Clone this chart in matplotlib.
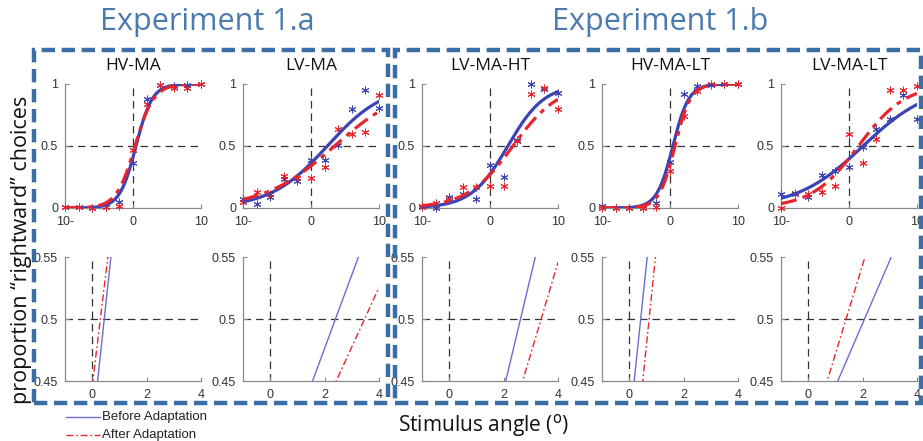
import numpy as np
import matplotlib.pyplot as plt
from matplotlib.patches import Rectangle
from matplotlib.lines import Line2D

# stimulus angles and panel names
angles = [-10, -8, -6, -4, -2, 0, 2, 4, 6, 8, 10]
panels = ["HV-MA", "LV-MA", "LV-MA-HT", "HV-MA-LT", "LV-MA-LT"]

# proportion "rightward" choices
before_pts = [
    [0.01, 0.01, 0.00, 0.01, 0.05, 0.36, 0.88, 0.99, 0.98, 0.99, 1.00],
    [0.07, 0.035, 0.09, 0.23, 0.22, 0.39, 0.39, 0.51, 0.80, 0.95, 0.81],
    [0.01, 0.00, 0.09, 0.11, 0.07, 0.35, 0.25, 0.55, 1.00, 0.96, 0.93],
    [0.02, 0.00, 0.00, 0.00, 0.04, 0.37, 0.92, 0.98, 0.99, 1.00, 1.00],
    [0.11, 0.11, 0.09, 0.27, 0.30, 0.33, 0.49, 0.64, 0.72, 0.91, 0.72],
]
after_pts = [
    [0.01, 0.01, 0.00, 0.01, 0.02, 0.47, 0.84, 0.99, 0.97, 0.97, 1.00],
    [0.045, 0.13, 0.115, 0.255, 0.24, 0.24, 0.33, 0.64, 0.60, 0.61, 0.91],
    [0.02, 0.04, 0.07, 0.17, 0.17, 0.18, 0.18, 0.54, 0.92, 0.97, 0.80],
    [0.00, 0.00, 0.00, 0.00, 0.01, 0.30, 0.74, 0.94, 1.00, 1.00, 1.00],
    [0.00, 0.12, 0.11, 0.13, 0.18, 0.60, 0.36, 0.56, 0.95, 0.95, 0.98],
]

# fitted psychometric curves (logistic): PSE and spread
pse_before = [0.44, 2.40, 2.62, 0.42, 2.07]
pse_after = [0.30, 3.47, 3.38, 0.73, 1.39]
spread_before = [1.20, 4.20, 2.70, 1.18, 4.90]
spread_after = [1.37, 5.20, 3.38, 1.15, 3.45]

BLUE = "#3c44b4"
RED = "#e8242c"
BLUE_THIN = "#6c6cd0"
BOX = "#3b6ea5"
TITLE = "#4a7aae"
DASHDOT = (0, (5, 2, 1.5, 2))

W, H = 923, 441
fig = plt.figure(figsize=(W / 100, H / 100), dpi=100)


def px_axes(x0, y_top, w, h):
    return fig.add_axes([x0 / W, 1 - (y_top + h) / H, w / W, h / H])


def logistic(x, mu, s):
    return 1.0 / (1.0 + np.exp(-(x - mu) / s))


def style(ax):
    for side in ["top", "right"]:
        ax.spines[side].set_visible(False)
    for side in ["left", "bottom"]:
        ax.spines[side].set_color("#8a8a8a")
        ax.spines[side].set_linewidth(0.9)
    ax.tick_params(direction="in", length=3, width=0.8, color="#8a8a8a",
                   labelsize=9, labelcolor="#333333")
    ax.tick_params(axis="x", pad=6)
    ax.tick_params(axis="y", pad=5)
    for lab in ax.get_xticklabels() + ax.get_yticklabels():
        lab.set_fontfamily("Liberation Sans")


lefts = [65, 243, 422, 602, 781]
ax_w = 136
asterisk = (6, 2, 0)

for i, name in enumerate(panels):
    # top: full psychometric curve
    ax = px_axes(lefts[i], 84, ax_w, 124)
    xs = np.linspace(-10, 10, 300)
    ax.axvline(0, color="#333333", lw=0.9, ls=(0, (6, 4)), zorder=1)
    ax.axhline(0.5, color="#333333", lw=0.9, ls=(0, (6, 4)), zorder=1)
    ax.plot(angles, before_pts[i], ls="none", marker=asterisk, ms=5.5,
            mec=BLUE, mew=0.7, zorder=3, clip_on=False)
    ax.plot(angles, after_pts[i], ls="none", marker=asterisk, ms=5.5,
            mec=RED, mew=0.7, zorder=3, clip_on=False)
    ax.plot(xs, logistic(xs, pse_before[i], spread_before[i]), color=BLUE, lw=2.3, zorder=4)
    ax.plot(xs, logistic(xs, pse_after[i], spread_after[i]), color=RED, lw=2.3,
            ls=DASHDOT, zorder=5)
    ax.set_xlim(-10, 10)
    ax.set_ylim(0, 1)
    ax.set_xticks([-10, 0, 10])
    ax.set_xticklabels(["10-", "0", "10"])
    ax.set_yticks([0, 0.5, 1])
    ax.set_yticklabels(["0", "0.5", "1"])
    style(ax)
    ax.set_title(name, fontsize=12.5, family="Open Sans", color="#111111", pad=10)

    # bottom: zoom around the 0.5 point
    bx = px_axes(lefts[i], 257, ax_w, 124)
    xz = np.linspace(-1, 4, 400)
    bx.axvline(0, color="#333333", lw=0.9, ls=(0, (6, 4)), zorder=1)
    bx.axhline(0.5, color="#333333", lw=0.9, ls=(0, (6, 4)), zorder=1)
    bx.plot(xz, logistic(xz, pse_before[i], spread_before[i]), color=BLUE_THIN, lw=1.0, zorder=3)
    bx.plot(xz, logistic(xz, pse_after[i], spread_after[i]), color=RED, lw=1.0,
            ls=(0, (5, 2, 1.2, 2)), zorder=4)
    bx.set_xlim(-1, 4)
    bx.set_ylim(0.45, 0.55)
    bx.set_xticks([0, 2, 4])
    bx.set_yticks([0.45, 0.5, 0.55])
    bx.set_yticklabels(["0.45", "0.5", "0.55"])
    style(bx)

# dashed boxes around the two experiments
fig.patches.append(Rectangle((34 / W, 1 - 403 / H), (388 - 34) / W, (403 - 50) / H,
                             transform=fig.transFigure, fill=False, ec=BOX, lw=3.2,
                             ls=(0, (3, 1.5)), zorder=0))
fig.patches.append(Rectangle((395 / W, 1 - 403 / H), (921 - 395) / W, (403 - 50) / H,
                             transform=fig.transFigure, fill=False, ec=BOX, lw=3.2,
                             ls=(0, (3, 1.5)), zorder=0))

fig.text(207 / W, 1 - 22 / H, "Experiment 1.a", ha="center", va="center",
         fontsize=22, family="Open Sans", color=TITLE)
fig.text(660 / W, 1 - 22 / H, "Experiment 1.b", ha="center", va="center",
         fontsize=22, family="Open Sans", color=TITLE)

fig.text(22 / W, 1 - 250 / H, "proportion \u201crightward\u201d choices", rotation=90,
         ha="center", va="center", fontsize=15.5, family="Open Sans", color="#111111")
fig.text(484 / W, 1 - 425 / H, "Stimulus angle ($^{\\rm o}$)", ha="center", va="center",
         fontsize=15, family="Open Sans", color="#111111")

# legend drawn by hand below the first panel
fig.lines.append(Line2D([66 / W, 100 / W], [1 - 417 / H] * 2, transform=fig.transFigure,
                        color=BLUE_THIN, lw=1.0))
fig.lines.append(Line2D([66 / W, 100 / W], [1 - 435 / H] * 2, transform=fig.transFigure,
                        color=RED, lw=1.0, ls=(0, (5, 2, 1.2, 2))))
fig.text(102 / W, 1 - 417 / H, "Before Adaptation", ha="left", va="center",
         fontsize=9.5, family="Liberation Sans", color="#222222")
fig.text(102 / W, 1 - 435 / H, "After Adaptation", ha="left", va="center",
         fontsize=9.5, family="Liberation Sans", color="#222222")

fig.savefig("out.png", dpi=100)
